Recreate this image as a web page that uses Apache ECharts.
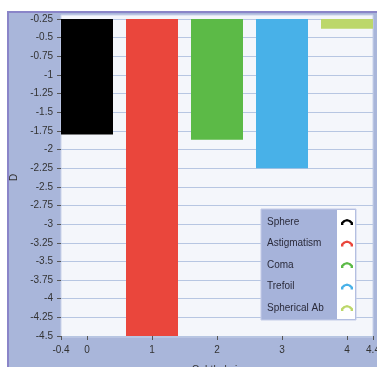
<!DOCTYPE html>
<html>
<head>
<meta charset="utf-8">
<script src="https://cdn.jsdelivr.net/npm/echarts@6/dist/echarts.min.js"></script>
<style>html,body{margin:0;padding:0;background:#fff}#c{width:377px;height:367px}</style>
</head>
<body>
<div id="c"></div>
<script>
var seriesNames = ['Sphere', 'Astigmatism', 'Coma', 'Trefoil', 'Spherical Ab'];
var xPositions = [0, 1, 2, 3, 4];
var values = [-1.8, -4.5, -1.87, -2.25, -0.38];
var colors = ['#000000', '#ea463c', '#5cba47', '#48b1e8', '#bcd76a'];
var xTickLabels = [-0.4, 0, 1, 2, 3, 4, 4.4];

var chart = echarts.init(document.getElementById('c'), null, {renderer: 'canvas'});
var font = 'Liberation Sans, Arial, sans-serif';
var iconPath = 'path://M0,10 L0,6 L4,2 L10,0 L16,2 L20,6 L20,10 L16,10 L16,7 L12,4 L8,4 L4,7 L4,10 Z';

var series = seriesNames.map(function (n, i) {
  return {
    name: n,
    type: 'bar',
    data: [[xPositions[i], values[i]]],
    barWidth: 52,
    barGap: '-100%',
    itemStyle: {color: colors[i]},
    clip: true
  };
});

chart.setOption({
  animation: false,
  backgroundColor: '#ffffff',
  textStyle: {fontFamily: font},
  graphic: [
    {type: 'rect', z: -10, shape: {x: 7, y: 11, width: 370, height: 356}, style: {fill: '#a9b6da'}},
    {type: 'rect', z: -10, shape: {x: 7, y: 11, width: 370, height: 2}, style: {fill: '#8a85c8'}},
    {type: 'rect', z: -10, shape: {x: 7, y: 11, width: 2, height: 356}, style: {fill: '#8a85c8'}},
    {type: 'rect', z: -9, shape: {x: 61, y: 15, width: 312, height: 322}, style: {fill: '#f4f6fb', stroke: '#c9d2ea', lineWidth: 1}},
    {type: 'rect', z: 3, shape: {x: 261, y: 209, width: 95, height: 111}, style: {fill: '#a6b3da', stroke: '#c3cbe8', lineWidth: 1}},
    {type: 'rect', z: 3, shape: {x: 337, y: 210, width: 18, height: 109}, style: {fill: '#ffffff'}}
  ],
  grid: {left: 61, right: 4, top: 19, bottom: 31, containLabel: false, outerBoundsMode: 'none'},
  xAxis: {
    type: 'value',
    min: -0.4,
    max: 4.4,
    name: 'Ophthalmic',
    nameLocation: 'middle',
    nameGap: 29,
    nameTextStyle: {color: '#333', fontSize: 10, fontFamily: font},
    axisLine: {show: false, onZero: false},
    splitLine: {show: false},
    axisTick: {show: true, customValues: xTickLabels, length: 4, lineStyle: {color: '#555'}},
    axisLabel: {customValues: xTickLabels, color: '#333', fontSize: 10, margin: 9, fontFamily: font, hideOverlap: false}
  },
  yAxis: {
    type: 'value',
    min: -4.5,
    max: -0.25,
    interval: 0.25,
    name: 'D',
    nameLocation: 'middle',
    nameRotate: 90,
    nameGap: 40,
    nameTextStyle: {color: '#333', fontSize: 10, fontFamily: font, padding: [0, 0, 0, 0]},
    axisLine: {show: false, onZero: false},
    axisTick: {show: true, length: 4, lineStyle: {color: '#555'}},
    axisLabel: {color: '#333', fontSize: 10, margin: 8, fontFamily: font},
    splitLine: {show: true, lineStyle: {color: '#b7c6e2', width: 1}}
  },
  legend: {
    orient: 'vertical',
    left: 267,
    top: 216,
    align: 'right',
    padding: 0,
    itemGap: 9.5,
    itemWidth: 12,
    itemHeight: 6,
    icon: iconPath,
    z: 4,
    data: seriesNames,
    formatter: '{a|{name}}',
    textStyle: {
      color: '#2a2a3a', fontSize: 10, fontFamily: font, lineHeight: 12,
      rich: {a: {width: 69, align: 'left', fontSize: 10, color: '#2a2a3a', fontFamily: font, lineHeight: 12}}
    }
  },
  series: series
});
</script>
</body>
</html>
